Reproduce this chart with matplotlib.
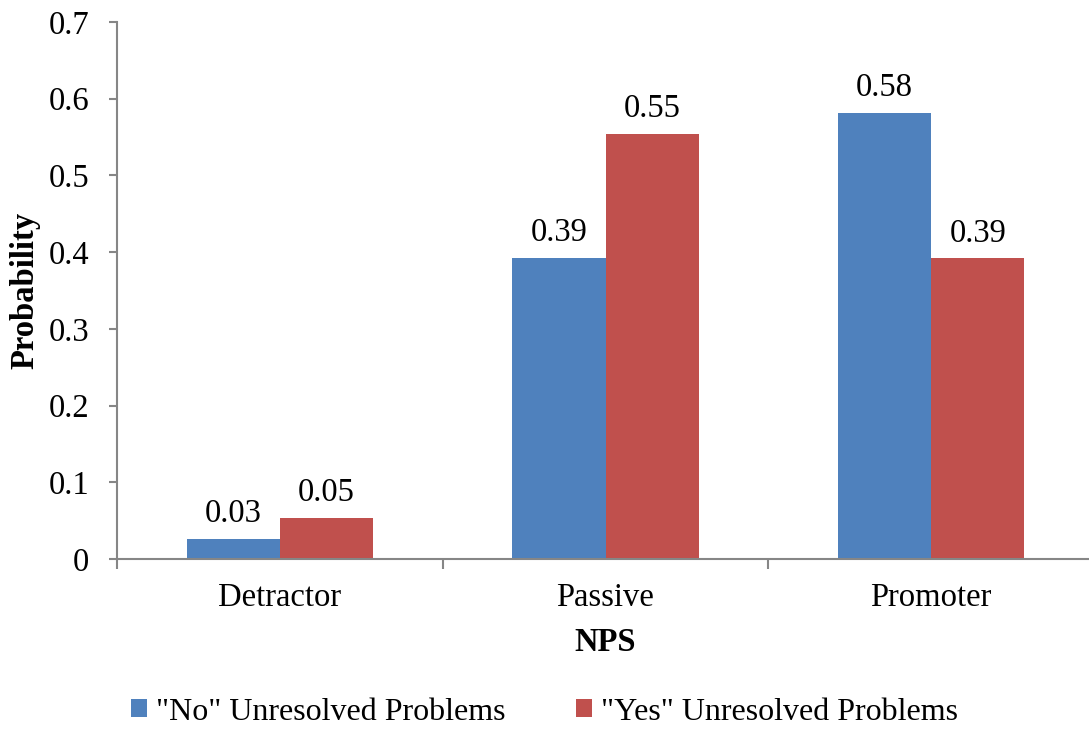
import numpy as np
import matplotlib.pyplot as plt

plt.rcParams['font.family'] = ['Liberation Serif', 'DejaVu Serif']

categories = ['Detractor', 'Passive', 'Promoter']
no_unresolved = [0.026, 0.393, 0.582]
yes_unresolved = [0.054, 0.554, 0.392]
series_names = ['"No" Unresolved Problems', '"Yes" Unresolved Problems']
yticks = [0, 0.1, 0.2, 0.3, 0.4, 0.5, 0.6, 0.7]

blue = '#4F81BD'
red = '#C0504D'
axis_gray = '#868686'
fs = 23.5

fig = plt.figure(figsize=(10.89, 7.3), dpi=100)
W, H = 1089, 730
ax = fig.add_axes([117 / W, 1 - 559 / H, (1094 - 117) / W, (559 - 22) / H])

x = np.arange(len(categories))
w = 0.286
b1 = ax.bar(x - w / 2, no_unresolved, w, color=blue, label=series_names[0],
            edgecolor='none')
b2 = ax.bar(x + w / 2, yes_unresolved, w, color=red, label=series_names[1],
            edgecolor='none')

for bars, vals in [(b1, no_unresolved), (b2, yes_unresolved)]:
    for rect, v in zip(bars, vals):
        ax.annotate(f'{v:.2f}', (rect.get_x() + rect.get_width() / 2, v),
                    xytext=(0, 7), textcoords='offset points',
                    ha='center', va='bottom', fontsize=fs)

ax.set_xlim(-0.5, len(categories) - 0.5)
ax.set_ylim(0, 0.7)
ax.set_yticks(yticks)
ax.set_yticklabels(['0' if t == 0 else f'{t:.1f}' for t in yticks], fontsize=fs)

# category boundaries get tick marks, labels sit at centres
ax.set_xticks(np.arange(len(categories) + 1) - 0.5)
ax.set_xticklabels([])
ax.set_xticks(x, minor=True)
ax.set_xticklabels(categories, minor=True, fontsize=fs)
ax.tick_params(axis='x', which='major', length=7, width=1.5, color=axis_gray)
ax.tick_params(axis='x', which='minor', length=0, pad=17)
ax.tick_params(axis='y', length=6, width=1.5, color=axis_gray, pad=14)

for s in ['top', 'right']:
    ax.spines[s].set_visible(False)
for s in ['left', 'bottom']:
    ax.spines[s].set_color(axis_gray)
    ax.spines[s].set_linewidth(1.5)

ax.set_xlabel('NPS', fontsize=fs, fontweight='bold', labelpad=10)
ax.set_ylabel('Probability', fontsize=fs, fontweight='bold', labelpad=6)

fig.legend(handles=[b1, b2], labels=series_names, loc='center',
           bbox_to_anchor=(0.5, 1 - 712 / H), ncol=2, frameon=False,
           fontsize=23, handlelength=0.5, handleheight=0.5, handletextpad=0.3,
           columnspacing=2.2, borderpad=0.2)

fig.savefig('out.png', dpi=100)
